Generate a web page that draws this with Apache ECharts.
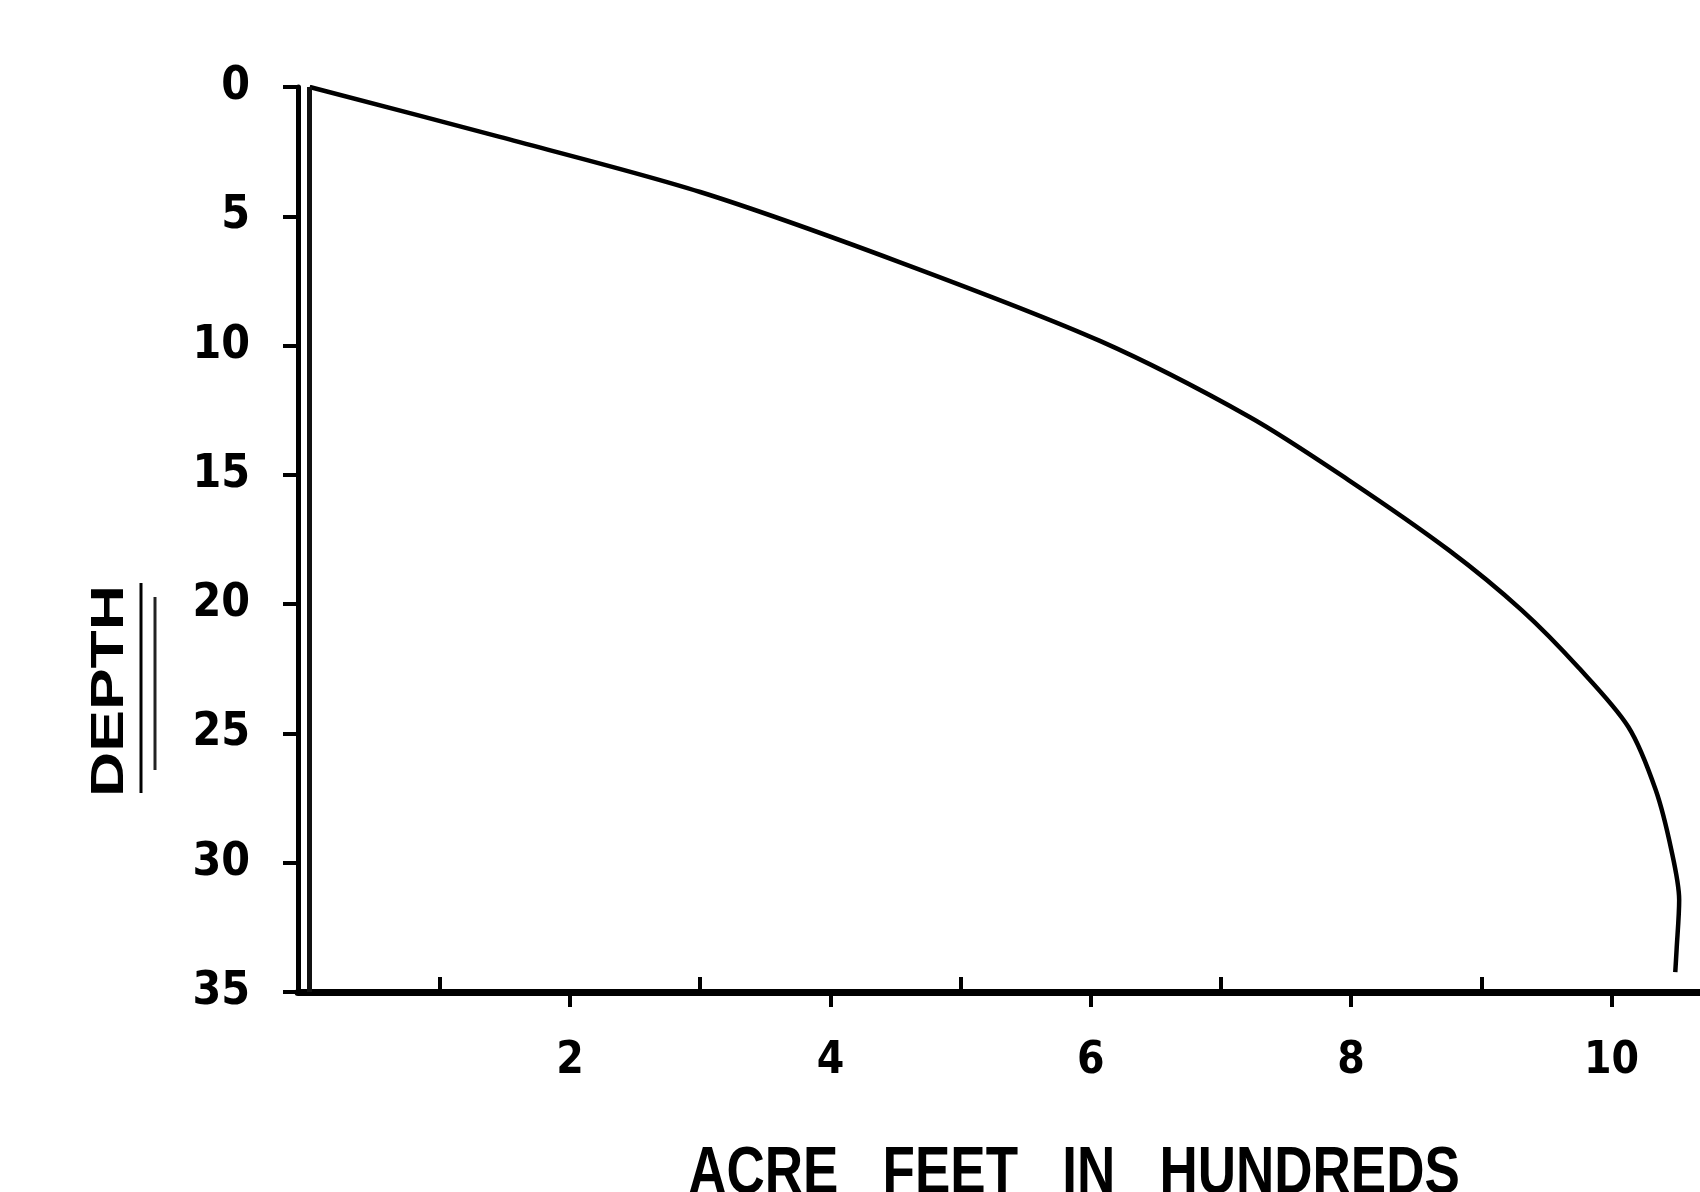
<!DOCTYPE html>
<html>
<head>
<meta charset="utf-8">
<script src="https://cdn.jsdelivr.net/npm/echarts@6/dist/echarts.min.js"></script>
<style>
html,body{margin:0;padding:0;background:#fff;}
#c{width:1700px;height:1192px;}
</style>
</head>
<body>
<div id="c"></div>
<script>
// Data (x = acre feet in hundreds, y = depth)
var acreFeet = [0, 1.46, 3.00, 4.53, 6.07, 7.22, 7.98, 8.75, 9.31, 9.75, 10.13, 10.34, 10.46, 10.52, 10.50, 10.49];
var depth    = [0, 1.93, 4.06, 6.77, 9.82, 12.76, 15.20, 17.91, 20.23, 22.47, 24.75, 27.19, 29.51, 31.44, 33.38, 34.23];
var xMajorTicks = [2, 4, 6, 8, 10];
var xMinorTicks = [1, 3, 5, 7, 9];
var yTicks = [0, 5, 10, 15, 20, 25, 30, 35];
var xTitle = 'ACRE   FEET   IN   HUNDREDS';
var yTitle = 'DEPTH';

var points = acreFeet.map(function (v, i) { return [v, depth[i]]; });

var chart = echarts.init(document.getElementById('c'), null, {renderer: 'canvas'});
var font = '"DejaVu Sans Condensed", "DejaVu Sans"';
var gridTop = 87, gridBottom = 200, H = 1192;
var gridHeight = H - gridTop - gridBottom;
var xMin = -0.09, xMax = 10.68;
chart.setOption({
  animation: false,
  backgroundColor: '#ffffff',
  grid: {left: 298, right: 0, top: gridTop, bottom: gridBottom, containLabel: false},
  xAxis: [{
    type: 'value', min: xMin, max: xMax, position: 'bottom',
    axisLine: {show: true, onZero: false, lineStyle: {color: '#000', width: 7}},
    axisTick: {show: true, inside: false, length: 15, lineStyle: {color: '#000', width: 4}, customValues: xMajorTicks},
    axisLabel: {show: true, margin: 48, color: '#000', fontFamily: font, fontWeight: 'bold', fontSize: 44, customValues: xMajorTicks},
    splitLine: {show: false}
  }, {
    // minor ticks pointing upward from the bottom axis line
    type: 'value', min: xMin, max: xMax, position: 'top', offset: -gridHeight,
    axisLine: {show: false},
    axisTick: {show: true, inside: false, length: 15, lineStyle: {color: '#000', width: 4}, customValues: xMinorTicks},
    axisLabel: {show: false},
    splitLine: {show: false}
  }],
  yAxis: [{
    type: 'value', inverse: true, min: 0, max: 35, interval: 5, position: 'left',
    axisLine: {show: true, onZero: false, lineStyle: {color: '#000', width: 5}},
    axisTick: {show: true, inside: false, length: 15, lineStyle: {color: '#000', width: 4}, customValues: yTicks},
    axisLabel: {show: true, margin: 48, color: '#000', fontFamily: font, fontWeight: 'bold', fontSize: 46, customValues: yTicks},
    splitLine: {show: false}
  }],
  series: [{
    type: 'line',
    xAxisIndex: 0, yAxisIndex: 0,
    data: points,
    smooth: 0.3,
    showSymbol: false,
    lineStyle: {color: '#000', width: 4.5},
    markLine: {
      silent: true,
      symbol: ['none', 'none'],
      label: {show: false},
      lineStyle: {color: '#111', width: 5, type: 'solid'},
      data: [{xAxis: 0}]
    }
  }],
  graphic: [
    {
      type: 'text', x: 1074, y: 1142, scaleY: 1.25,
      style: {text: xTitle, fill: '#000', font: 'bold 53px "Liberation Sans"', textAlign: 'center', textVerticalAlign: 'top'}
    },
    {
      type: 'text', x: 110, y: 691, rotation: Math.PI / 2, scaleX: 1.36,
      style: {text: yTitle, fill: '#000', font: 'bold 46px "Liberation Sans"', textAlign: 'center', textVerticalAlign: 'middle'}
    },
    {type: 'line', shape: {x1: 141, y1: 583, x2: 141, y2: 793}, style: {stroke: '#000', lineWidth: 3}},
    {type: 'line', shape: {x1: 155, y1: 597, x2: 155, y2: 770}, style: {stroke: '#222', lineWidth: 3}}
  ]
});
</script>
</body>
</html>
